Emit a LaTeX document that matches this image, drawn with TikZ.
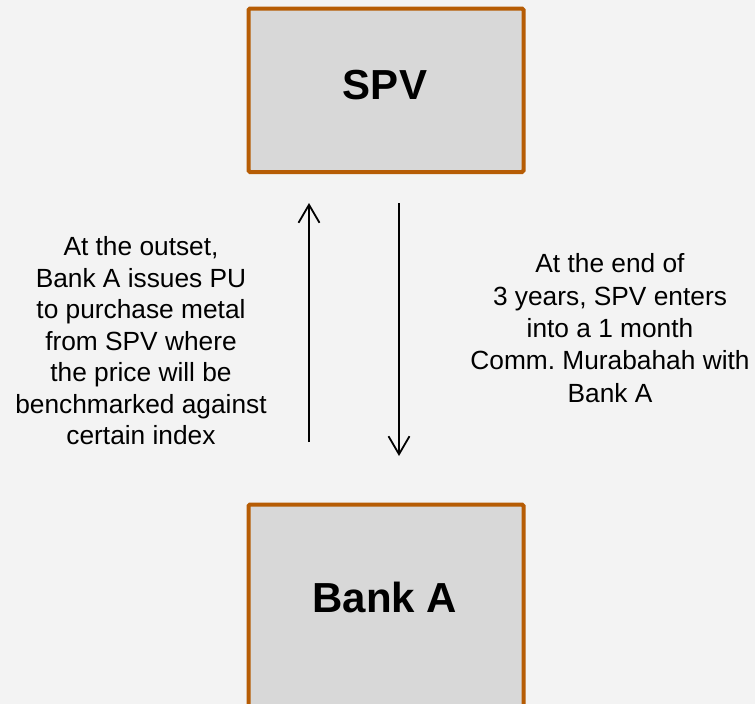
\documentclass[tikz,border=0pt]{standalone}
\usepackage{fontspec}
\setmainfont{Liberation Sans}
\usetikzlibrary{arrows.meta}
\frenchspacing
\definecolor{bgc}{HTML}{F3F3F3}
\definecolor{boxfill}{HTML}{D8D8D8}
\definecolor{boxedge}{RGB}{182,92,4}
\tikzset{
  entity/.style={draw=boxedge, fill=boxfill, line width=4pt, rounded corners=1.5pt,
    minimum width=275pt, inner sep=0pt},
  title/.style={font=\fontsize{42}{48}\selectfont\bfseries, inner sep=0pt},
  note/.style={align=center, inner sep=0pt},
  flow/.style={line width=1.8pt, -{Straight Barb[length=18pt,width=21pt,line width=1.8pt]}},
}
\begin{document}
\begin{tikzpicture}[x=1pt,y=-1pt]
\useasboundingbox (0,0) rectangle (755,704);
\fill[bgc] (0,0) rectangle (755,704);
\begin{scope}
\clip (0,0) rectangle (755,704);
\node[entity, minimum height=163.5pt] (spv) at (386,90.25) {};
\node[entity, minimum height=230pt, anchor=north] (bank) at (386,502.5) {};
\end{scope}
\node[title] (spvlabel) at (385,85) {SPV};
\node[title] (banklabel) at (385,597.5) {Bank A};
\node[note, font=\fontsize{26.3}{31.5}\selectfont] (left) at (141,341)
  {At the outset,\\Bank A issues PU\\to purchase metal\\from SPV where\\the price will be\\benchmarked against\\certain index};
\node[note, font=\fontsize{26.3}{32.3}\selectfont] (right) at (610,328)
  {At the end of\\3 years, SPV enters\\into a 1 month\\Comm. Murabahah with\\Bank A};
\coordinate (upfrom) at (309,442);
\coordinate (upto) at (309,203);
\coordinate (downfrom) at (399,203);
\coordinate (downto) at (399,456);
\draw[flow] (upfrom) -- (upto);
\draw[flow] (downfrom) -- (downto);
\end{tikzpicture}
\end{document}
